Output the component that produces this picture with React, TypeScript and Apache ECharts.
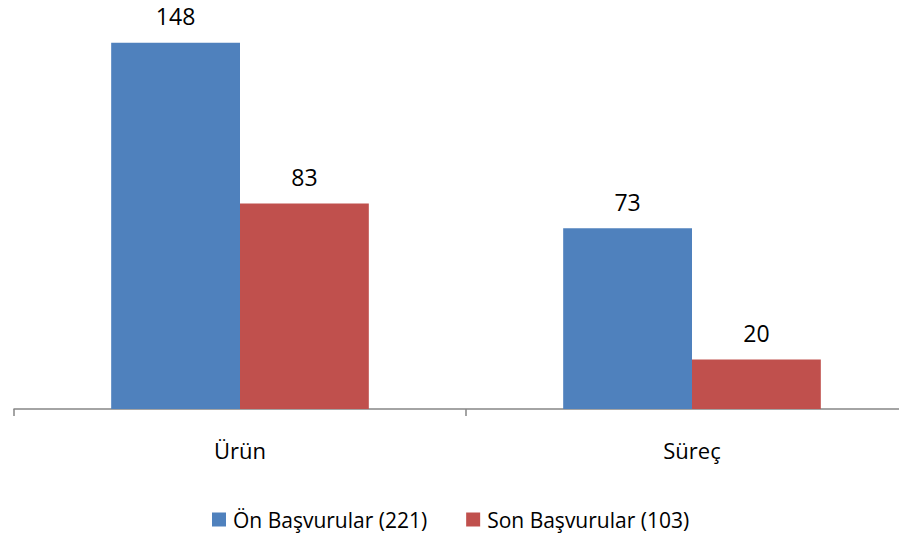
import React, { useEffect, useRef } from "react";
import * as echarts from "echarts";

const categories = ["Ürün", "Süreç"];
const onBasvurular = [148, 73];
const sonBasvurular = [83, 20];
const seriesNames = ["Ön Başvurular (221)", "Son Başvurular (103)"];

const FONT = "Open Sans";

export default function App() {
  const ref = useRef<HTMLDivElement>(null);
  useEffect(() => {
    document.body.style.margin = "0";
    document.body.style.overflow = "hidden";
    const chart = echarts.init(ref.current!, null, { renderer: "svg" });
    const label = {
      show: true,
      position: "top" as const,
      distance: 15,
      color: "#000",
      fontFamily: FONT,
      fontSize: 23,
    };
    chart.setOption({
      animation: false,
      backgroundColor: "#fff",
      grid: { left: 14, right: 2, top: 13, bottom: 129, containLabel: false },
      xAxis: {
        type: "category",
        data: categories,
        axisLine: { show: true, lineStyle: { color: "#868686", width: 1.5 } },
        axisTick: { show: true, length: 7, lineStyle: { color: "#868686", width: 1.5 } },
        axisLabel: { color: "#000", fontFamily: FONT, fontSize: 22, margin: 30 },
      },
      yAxis: {
        type: "value",
        min: 0,
        max: 160,
        show: false,
        splitLine: { show: false },
      },
      legend: {
        left: 207,
        top: 504,
        itemWidth: 14,
        itemHeight: 14,
        itemGap: 39,
        icon: "rect",
        textStyle: { color: "#000", fontFamily: FONT, fontSize: 21, padding: [0, 0, 0, 2] },
      },
      series: [
        {
          name: seriesNames[0],
          type: "bar",
          data: onBasvurular,
          itemStyle: { color: "#4F81BD" },
          barGap: "0%",
          barCategoryGap: "43%",
          label,
        },
        {
          name: seriesNames[1],
          type: "bar",
          data: sonBasvurular,
          itemStyle: { color: "#C0504D" },
          label,
        },
      ],
    });
    return () => chart.dispose();
  }, []);
  return <div ref={ref} style={{ position: "fixed", left: 0, top: 0, width: 920, height: 538 }} />;
}
